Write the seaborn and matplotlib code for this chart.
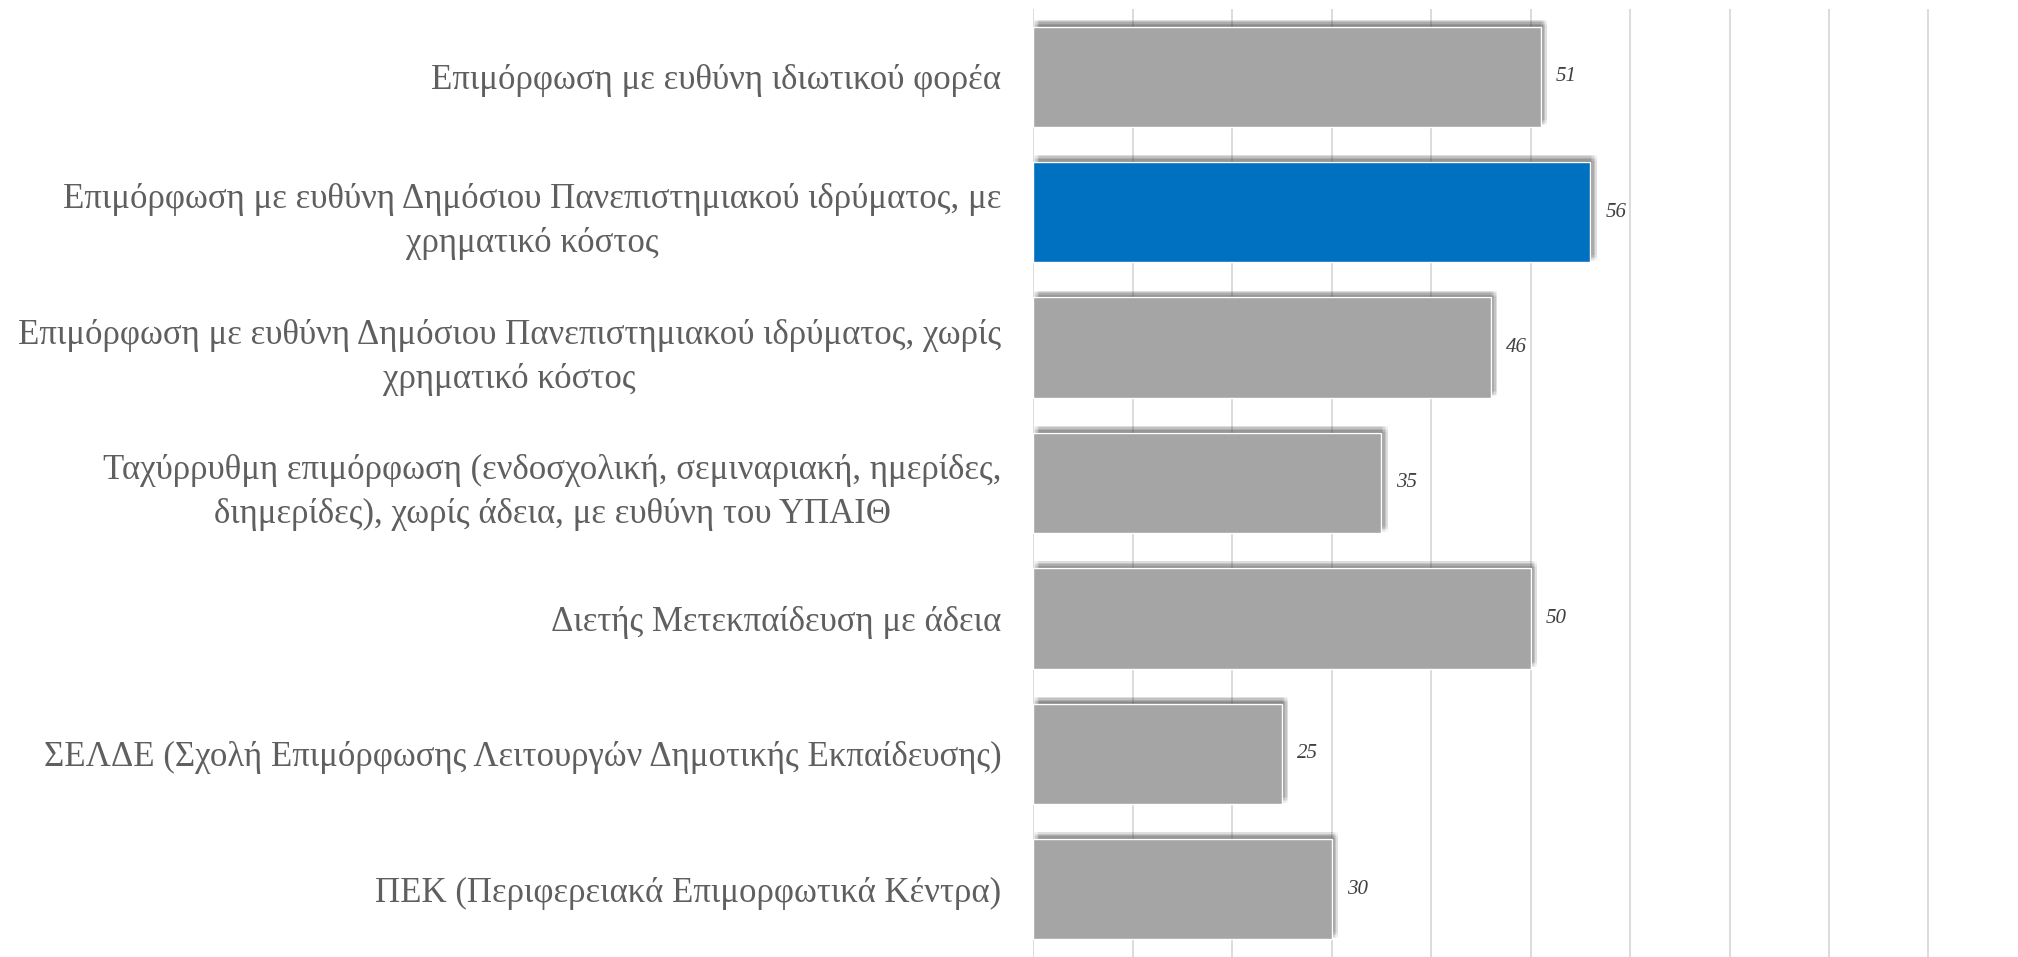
import pandas as pd
import matplotlib.pyplot as plt
import matplotlib.patheffects as pe
import seaborn as sns

# data
categories = [
    "Επιμόρφωση με ευθύνη ιδιωτικού φορέα",
    "Επιμόρφωση με ευθύνη Δημόσιου Πανεπιστημιακού ιδρύματος, με\nχρηματικό κόστος",
    "Επιμόρφωση με ευθύνη Δημόσιου Πανεπιστημιακού ιδρύματος, χωρίς\nχρηματικό κόστος",
    "Ταχύρρυθμη επιμόρφωση (ενδοσχολική, σεμιναριακή, ημερίδες,\nδιημερίδες), χωρίς άδεια, με ευθύνη του ΥΠΑΙΘ",
    "Διετής Μετεκπαίδευση με άδεια",
    "ΣΕΛΔΕ (Σχολή Επιμόρφωσης Λειτουργών Δημοτικής Εκπαίδευσης)",
    "ΠΕΚ (Περιφερειακά Επιμορφωτικά Κέντρα)",
]
values = [51, 56, 46, 35, 50, 25, 30]
highlight = [False, True, False, False, False, False, False]

df = pd.DataFrame({"cat": categories, "val": values, "hl": highlight})

sns.set_style("white")
plt.rcParams["font.family"] = ["Liberation Serif", "DejaVu Serif"]

fig = plt.figure(figsize=(20.18, 9.57), dpi=100)
ax = fig.add_axes([0.512, 0.0, 0.488, 0.9906])

palette = {False: "#A5A5A5", True: "#0070C0"}
sns.barplot(data=df, y="cat", x="val", hue="hl", palette=palette, saturation=1,
            dodge=False, width=0.74, legend=False, ax=ax, zorder=3)

# blurry shadow up/right of each bar
shadow = []
for dx in (0.5, 1.5, 2.5, 3.5, 4.5):
    for dy in (1.0, 2.0, 3.0, 4.0, 5.0):
        shadow.append(pe.SimplePatchShadow(offset=(dx, dy), shadow_rgbFace="#444444", alpha=0.035))
shadow.append(pe.Normal())
for p in ax.patches:
    p.set_path_effects(shadow)

for i, v in enumerate(values):
    ax.text(v + 1.5, i, str(v), va="center", ha="left", fontsize=15,
            style="italic", color="#404040")

ax.set_xlim(0, 99)
ax.set_ylim(6.5, -0.5)
ax.set_xticks(range(0, 100, 10))
ax.xaxis.grid(True, color="#D9D9D9", linewidth=1.3, zorder=0)
ax.set_axisbelow(True)
ax.tick_params(axis="x", labelbottom=False, length=0)
ax.tick_params(axis="y", length=0, pad=23, labelsize=25, labelcolor="#5F5F5F")
for lbl in ax.get_yticklabels():
    lbl.set_multialignment("center")
    lbl.set_linespacing(1.45)
ax.set_xlabel("")
ax.set_ylabel("")
for s in ax.spines.values():
    s.set_visible(False)

plt.savefig("out.png", dpi=100)
